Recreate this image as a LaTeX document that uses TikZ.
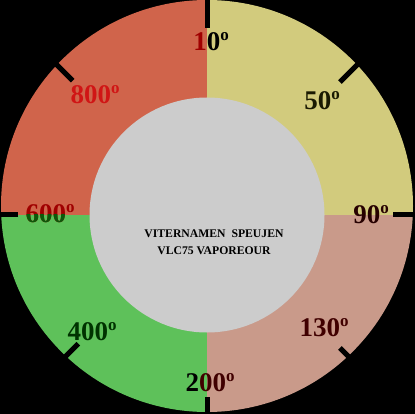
\documentclass[tikz,border=0pt]{standalone}
\usepackage{fontspec}
\setmainfont{Liberation Serif}
\definecolor{vakRood}{HTML}{D0644B}
\definecolor{vakGeel}{HTML}{D2CB7D}
\definecolor{vakRoze}{HTML}{C99A8A}
\definecolor{vakGroen}{HTML}{5EC15A}
\definecolor{vakGrijs}{HTML}{CCCCCC}
\definecolor{tekstRood}{HTML}{D01515}
\definecolor{tekstDonkerrood}{HTML}{A00000}
\definecolor{tekstDonkergroen}{HTML}{0A5A0A}
\definecolor{tekstOlijf}{HTML}{1A1A02}
\newcommand{\grd}{\raisebox{10pt}{\fontsize{17}{17}\selectfont o}}
\begin{document}
\begin{tikzpicture}[x=1pt,y=-1pt,
  stopien/.style={font=\bfseries\fontsize{27}{27}\selectfont, inner sep=0pt}]
\fill[black] (0,0) rectangle (415,414);
\useasboundingbox (0,0) rectangle (415,414);
\coordinate (m) at (207,215);
% vier kwadranten
\begin{scope}
\clip (207,206) circle (206);
\fill[vakRood] (0,0) rectangle (m);
\fill[vakGeel] (415,0) rectangle (m);
\fill[vakRoze] (415,414) rectangle (m);
\fill[vakGroen] (0,414) rectangle (m);
\end{scope}
% streepjes
\foreach \a/\r in {-90/187, -45/188, 0/186, 45/188, 90/182, 135/182, 180/189, -135/190} {
    \draw[black, line width=5pt] (m) ++(\a:\r) -- ++(\a:40);
}
\fill[vakGrijs] (m) circle (117.5);
% temperaturen
\node[stopien] (t10) at (211,42) {{\color{tekstDonkerrood}1}0\grd};
\node[stopien, text=tekstRood] (t800) at (95,95) {800\grd};
\node[stopien, text=tekstOlijf] (t50) at (322,101) {50\grd};
\node[stopien, text=tekstDonkerrood] (t600) at (50,214) {600\grd};
\begin{scope}
\clip (0,215) rectangle (207,240);
\node[stopien, text=tekstDonkergroen] (t600b) at (50,214) {600\grd};
\end{scope}
\node[stopien, text=black!85!red] (t90) at (371,215) {90\grd};
\node[stopien, text=black!75!red] (t130) at (324,328) {130\grd};
\node[stopien, text=black!75!red] (t200) at (210,383) {{\color{black}2}00\grd};
\node[stopien, text=black!80!green] (t400) at (92,332) {400\grd};
\node[font=\bfseries\fontsize{11.7}{17}\selectfont, align=center, inner sep=0pt] (titel) at (214,242.5)
    {VITERNAMEN~ SPEUJEN\\VLC75 VAPOREOUR};
\end{tikzpicture}
\end{document}
